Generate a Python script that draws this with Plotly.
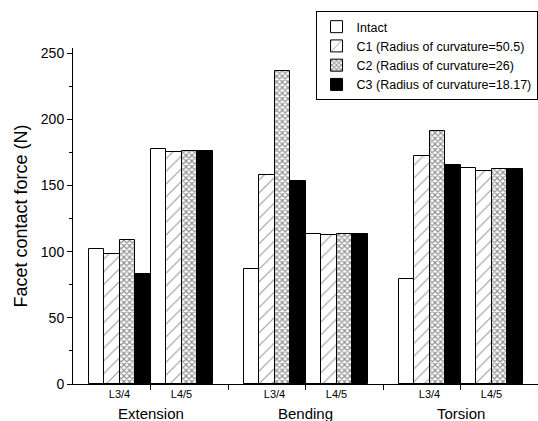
import plotly.graph_objects as go

# ---- data ----
load_cases = ["Extension", "Bending", "Torsion"]
levels = ["L3/4", "L4/5"]
positions = [0, 1, 2.5, 3.5, 5, 6]          # category centres (x axis units)
category_labels = ["L3/4", "L4/5", "L3/4", "L4/5", "L3/4", "L4/5"]
group_centres = [0.5, 3.0, 5.5]
boundary_ticks = [0.5, 1.75, 3.0, 4.25, 5.5, 6.75]

series_names = [
    "Intact",
    "C1 (Radius of curvature=50.5)",
    "C2 (Radius of curvature=26)",
    "C3 (Radius of curvature=18.17)",
]
intact = [101.8, 177.4, 86.7, 113.2, 79.1, 163.3]
c1 = [98.0, 175.6, 157.7, 112.4, 172.3, 161.2]
c2 = [108.6, 176.3, 236.8, 113.6, 191.5, 162.7]
c3 = [82.9, 176.3, 153.7, 113.6, 165.5, 162.7]

FONT = "Liberation Sans, Arial, sans-serif"

fig = go.Figure()
fig.add_trace(go.Bar(x=positions, y=intact, name=series_names[0],
                     marker=dict(color="white", line=dict(color="black", width=1))))
fig.add_trace(go.Bar(x=positions, y=c1, name=series_names[1],
                     marker=dict(color="white", line=dict(color="black", width=1),
                                 pattern=dict(shape="/", fgcolor="#333333", bgcolor="white",
                                              size=9, solidity=0.12))))
fig.add_trace(go.Bar(x=positions, y=c2, name=series_names[2],
                     marker=dict(color="white", line=dict(color="black", width=1),
                                 pattern=dict(shape="x", fgcolor="#222222", bgcolor="white",
                                              size=4, solidity=0.5))))
fig.add_trace(go.Bar(x=positions, y=c3, name=series_names[3],
                     marker=dict(color="black", line=dict(color="black", width=1))))

for xc, txt in zip(group_centres, load_cases):
    fig.add_annotation(x=xc, xref="x", y=-0.087, yref="paper", text=txt,
                       showarrow=False, yanchor="middle",
                       font=dict(family=FONT, size=15, color="black"))

fig.update_layout(
    width=538, height=421,
    margin=dict(l=73, r=0, t=48, b=37),
    paper_bgcolor="white", plot_bgcolor="white",
    barmode="group", bargap=0, bargroupgap=0,
    font=dict(family=FONT, color="black"),
    legend=dict(x=0.999, y=1.11, xanchor="right", yanchor="top",
                bordercolor="black", borderwidth=1, bgcolor="white",
                font=dict(family=FONT, size=12.5, color="black"),
                tracegroupgap=0, itemwidth=30),
    xaxis=dict(range=[-0.75, 6.75], tickmode="array", tickvals=positions,
               ticktext=category_labels, ticks="", showgrid=False, zeroline=False,
               showline=True, linecolor="black", linewidth=1,
               tickfont=dict(family=FONT, size=11, color="black"),
               minor=dict(tickmode="array", tickvals=boundary_ticks, ticks="outside",
                          ticklen=5, tickcolor="black", showgrid=False)),
    yaxis=dict(range=[0, 254], tickmode="linear", tick0=0, dtick=50,
               ticks="outside", ticklen=5, tickcolor="black",
               showgrid=False, zeroline=False, showline=True, linecolor="black",
               linewidth=1, tickfont=dict(family=FONT, size=14, color="black"),
               title=dict(text="Facet contact force (N)",
                          font=dict(family=FONT, size=18, color="black"), standoff=8),
               minor=dict(dtick=25, ticks="outside", ticklen=3, tickcolor="black",
                          showgrid=False)),
)

fig.write_html("out.html")
